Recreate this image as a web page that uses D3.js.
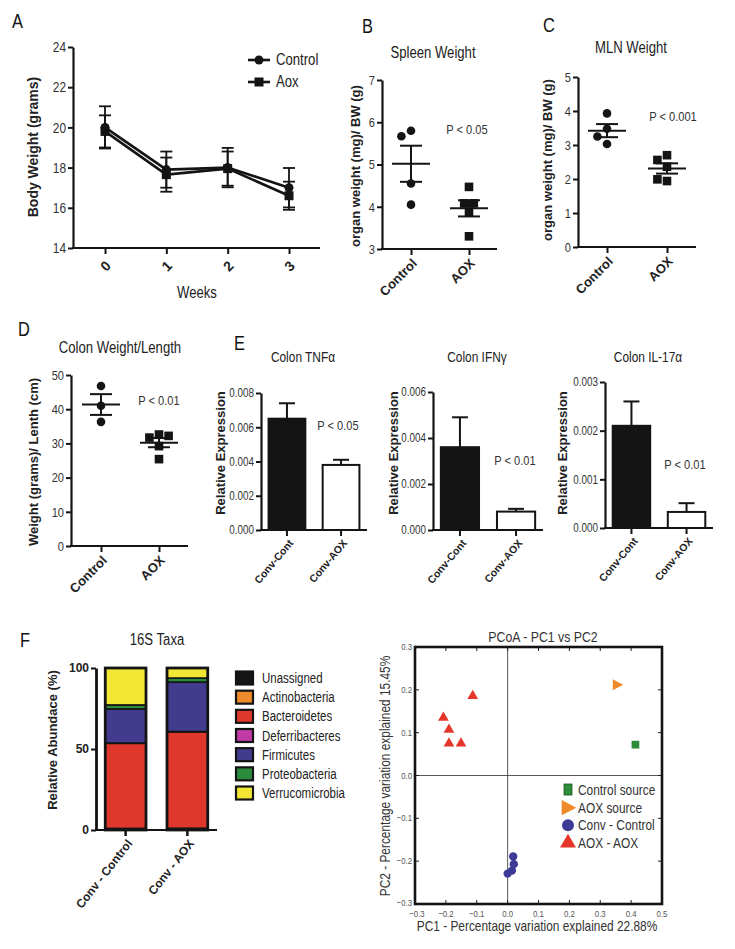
<!DOCTYPE html>
<html><head><meta charset="utf-8">
<script src="https://cdn.jsdelivr.net/npm/d3@7"></script>
<style>body{margin:0;background:#fff;}svg{display:block;}</style>
</head><body><svg id="fig" width="735" height="949"></svg>
<script>
// ---------------- DATA ----------------
// Panel A: body weight over weeks (mean, SEM)
const weeks = [0, 1, 2, 3];
const bwControlMean = [20.0, 17.9, 18.0, 17.0];
const bwControlSem  = [1.05, 0.9, 0.98, 0.98];
const bwAoxMean     = [19.8, 17.65, 17.95, 16.6];
const bwAoxSem      = [0.8, 0.85, 0.85, 0.7];
const bwTicks = [14, 16, 18, 20, 22, 24];

// Panel B: spleen weight (mg)/BW (g)
const scatterGroups = ["Control", "AOX"];
const spleenControl = [4.55, 4.05, 5.8, 5.67];
const spleenAox     = [4.47, 3.88, 3.3, 4.08, 4.08];
const spleenTicks = [3, 4, 5, 6, 7];

// Panel C: MLN weight
const mlnControl = [3.93, 3.48, 3.03, 3.25];
const mlnAox     = [2.7, 2.56, 2.36, 1.94, 1.99];
const mlnTicks = [0, 1, 2, 3, 4, 5];

// Panel D: colon weight/length
const colonControl = [46.8, 41.0, 36.3];
const colonAox     = [32.6, 31.7, 32.2, 29.2, 25.4];
const colonTicks = [0, 10, 20, 30, 40, 50];

// Panel E: relative expression (mean, SEM)
const exprGroups = ["Conv-Cont", "Conv-AOX"];
const tnfMean = [0.0065, 0.0038];
const tnfSem  = [0.0009, 0.0003];
const ifnMean = [0.0036, 0.0008];
const ifnSem  = [0.0013, 0.00012];
const il17Mean = [0.0021, 0.00033];
const il17Sem  = [0.0005, 0.00018];

// Panel F left: 16S taxa (% relative abundance)
const taxa = ["Unassigned", "Actinobacteria", "Bacteroidetes", "Deferribacteres", "Firmicutes", "Proteobacteria", "Verrucomicrobia"];
const taxaColors = ["#151515", "#ef8a2a", "#e0372c", "#c23aa6", "#433b8e", "#2c8a3c", "#f2e634"];
const taxaSamples = ["Conv - Control", "Conv - AOX"];
const taxaConvControl = [1.0, 0.0, 52.5, 0.2, 21.0, 2.5, 22.8];
const taxaConvAox     = [1.0, 0.1, 59.5, 0.2, 30.5, 2.5, 6.2];

// Panel F right: PCoA
const pcoaGroups = ["Control source", "AOX source", "Conv - Control", "AOX - AOX"];
const controlSourcePC1 = [0.414];
const controlSourcePC2 = [0.072];
const aoxSourcePC1 = [0.355];
const aoxSourcePC2 = [0.212];
const convControlPC1 = [0.018, 0.02, 0.014, 0.0];
const convControlPC2 = [-0.189, -0.207, -0.222, -0.229];
const aoxAoxPC1 = [-0.113, -0.208, -0.19, -0.19, -0.151];
const aoxAoxPC2 = [0.186, 0.135, 0.107, 0.075, 0.075];
const pcoaTicks = [-0.3, -0.2, -0.1, 0.0, 0.1, 0.2, 0.3, 0.4, 0.5];

// ---------------- DRAWING ----------------
const svg = d3.select("#fig");
const FN = '"Liberation Sans Narrow","Liberation Sans",Arial,sans-serif';
const FB = '"Liberation Sans",Arial,sans-serif';
const INK = "#141414";

function txt(x, y, s, o = {}) {
  const t = svg.append("text").attr("x", x).attr("y", y).text(s)
    .attr("font-size", o.size || 13)
    .attr("font-family", o.bold ? FB : FN)
    .attr("font-weight", o.bold ? "bold" : "normal")
    .attr("text-anchor", o.anchor || "middle")
    .attr("fill", o.fill || "#222");
  if (o.rot) t.attr("transform", `rotate(${o.rot},${x},${y})`);
  return t;
}

function yAxis(y, x0, ticks, fmt, size) {
  const g = svg.append("g").attr("transform", `translate(${x0},0)`)
    .call(d3.axisLeft(y).tickValues(ticks).tickFormat(fmt).tickSize(5).tickSizeOuter(0).tickPadding(2));
  g.select(".domain").attr("stroke", INK).attr("stroke-width", 2.2);
  g.selectAll(".tick line").attr("stroke", INK).attr("stroke-width", 2);
  g.selectAll(".tick text").attr("font-size", size).attr("font-family", FN).attr("fill", "#333");
  return g;
}

function xAxisCat(x, yPos, x0, x1, labelSize, rot, dx, dy, bold = true) {
  svg.append("line").attr("x1", x0 - 1).attr("x2", x1).attr("y1", yPos).attr("y2", yPos)
    .attr("stroke", INK).attr("stroke-width", 2.2);
  const g = svg.append("g").attr("transform", `translate(0,${yPos})`)
    .call(d3.axisBottom(x).tickSize(6).tickSizeOuter(0));
  g.select(".domain").remove();
  g.selectAll(".tick line").attr("stroke", INK).attr("stroke-width", 2);
  g.selectAll(".tick text")
    .attr("font-size", labelSize).attr("font-family", bold ? FB : FN)
    .attr("font-weight", bold ? "bold" : "normal").attr("fill", "#222")
    .attr("x", 0).attr("y", 0).attr("dy", "0.35em")
    .attr("text-anchor", "end")
    .attr("transform", `translate(${dx},${dy}) rotate(${rot})`);
  return g;
}

function swarm(vals, y, r, step) {
  const placed = [];
  const seq = [0];
  for (let i = 1; i < 8; i++) seq.push(-i, i);
  return vals.map(v => {
    const py = y(v);
    for (const s of seq) {
      const px = s * step;
      if (placed.every(p => Math.hypot(p.x - px, p.y - py) >= 2 * r)) {
        placed.push({ x: px, y: py });
        return { x: px, y: py, v };
      }
    }
  });
}

function scatterPanel(cfg) {
  const y = d3.scaleLinear(cfg.domain, cfg.range);
  const x = d3.scalePoint(scatterGroups, cfg.catRange);
  yAxis(y, cfg.x0, cfg.ticks, d3.format("d"), 13.5);
  xAxisCat(x, cfg.range[0], cfg.x0, cfg.xEnd, 13, -45, 3, 12);
  [cfg.a, cfg.b].forEach((vals, gi) => {
    const cx = x(scatterGroups[gi]);
    const pts = swarm(vals, y, 4.6, 4.8);
    const g = svg.append("g");
    if (gi === 0) {
      g.selectAll("circle").data(pts).join("circle")
        .attr("cx", d => cx + d.x).attr("cy", d => d.y).attr("r", 4.3).attr("fill", INK);
    } else {
      g.selectAll("rect").data(pts).join("rect")
        .attr("x", d => cx + d.x - 4.3).attr("y", d => d.y - 4.3)
        .attr("width", 8.6).attr("height", 8.6).attr("fill", INK);
    }
    const m = d3.mean(vals);
    const sem = d3.deviation(vals) / Math.sqrt(vals.length);
    const L = svg.append("g").attr("stroke", INK).attr("stroke-width", 2);
    L.append("line").attr("x1", cx - 19).attr("x2", cx + 19).attr("y1", y(m)).attr("y2", y(m));
    L.append("line").attr("x1", cx).attr("x2", cx).attr("y1", y(m + sem)).attr("y2", y(m - sem));
    [m + sem, m - sem].forEach(v => L.append("line").attr("x1", cx - 11).attr("x2", cx + 11).attr("y1", y(v)).attr("y2", y(v)));
  });
}

// ---------- Panel A ----------
txt(12, 28, "A", { size: 20, anchor: "start", fill: "#111" });
{
  const x = d3.scaleLinear([0, 3], [105, 289]);
  const y = d3.scaleLinear([14, 24], [248, 47]);
  yAxis(y, 73, bwTicks, d3.format("d"), 14.5);
  svg.append("line").attr("x1", 72).attr("x2", 320).attr("y1", 248).attr("y2", 248).attr("stroke", INK).attr("stroke-width", 2.2);
  const gx = svg.append("g").attr("transform", "translate(0,248)")
    .call(d3.axisBottom(x).tickValues(weeks).tickFormat(d3.format("d")).tickSize(6).tickSizeOuter(0));
  gx.select(".domain").remove();
  gx.selectAll(".tick line").attr("stroke", INK).attr("stroke-width", 2);
  gx.selectAll(".tick text").attr("font-size", 14).attr("font-family", FB).attr("font-weight", "bold").attr("fill", "#222")
    .attr("x", 0).attr("y", 0).attr("dy", "0.35em").attr("text-anchor", "middle")
    .attr("transform", "translate(0,18) rotate(-45)");
  txt(197, 298, "Weeks", { size: 16 });
  txt(38, 147, "Body Weight (grams)", { size: 14, bold: true, rot: -90 });
  const series = [
    { m: bwControlMean, s: bwControlSem, shape: "circle" },
    { m: bwAoxMean, s: bwAoxSem, shape: "square" }
  ];
  series.forEach(se => {
    const g = svg.append("g");
    weeks.forEach((w, i) => {
      const e = g.append("g").attr("stroke", INK).attr("stroke-width", 1.8);
      e.append("line").attr("x1", x(w)).attr("x2", x(w)).attr("y1", y(se.m[i] + se.s[i])).attr("y2", y(se.m[i] - se.s[i]));
      [se.m[i] + se.s[i], se.m[i] - se.s[i]].forEach(v =>
        e.append("line").attr("x1", x(w) - 6).attr("x2", x(w) + 6).attr("y1", y(v)).attr("y2", y(v)));
    });
    g.append("path").datum(se.m).attr("fill", "none").attr("stroke", INK).attr("stroke-width", 2.6)
      .attr("d", d3.line().x((d, i) => x(weeks[i])).y(d => y(d)));
    if (se.shape === "circle") {
      g.selectAll("circle").data(se.m).join("circle").attr("cx", (d, i) => x(weeks[i])).attr("cy", d => y(d)).attr("r", 4.5).attr("fill", INK);
    } else {
      g.selectAll("rect").data(se.m).join("rect").attr("x", (d, i) => x(weeks[i]) - 4.5).attr("y", d => y(d) - 4.5).attr("width", 9).attr("height", 9).attr("fill", INK);
    }
  });
  // legend
  [["Control", "circle", 60], ["Aox", "square", 82]].forEach(([lab, shp, ly]) => {
    svg.append("line").attr("x1", 248).attr("x2", 270).attr("y1", ly).attr("y2", ly).attr("stroke", INK).attr("stroke-width", 2.6);
    if (shp === "circle") svg.append("circle").attr("cx", 259).attr("cy", ly).attr("r", 4.5).attr("fill", INK);
    else svg.append("rect").attr("x", 254.5).attr("y", ly - 4.5).attr("width", 9).attr("height", 9).attr("fill", INK);
    txt(276, ly + 5, lab, { size: 16, anchor: "start" });
  });
}

// ---------- Panel B ----------
txt(362, 33, "B", { size: 20, anchor: "start", fill: "#111" });
txt(433, 58, "Spleen Weight", { size: 16 });
txt(467, 134, "P < 0.05", { size: 13.5, fill: "#333" });
txt(360, 166, "organ weight (mg)/ BW (g)", { size: 13, bold: true, rot: -90 });
scatterPanel({ domain: [3, 7], range: [249, 80], x0: 382, xEnd: 497, catRange: [411, 469], ticks: spleenTicks, a: spleenControl, b: spleenAox });

// ---------- Panel C ----------
txt(543, 32, "C", { size: 20, anchor: "start", fill: "#111" });
txt(631, 53, "MLN Weight", { size: 16 });
txt(673, 121, "P < 0.001", { size: 13.5, fill: "#333" });
txt(552, 160, "organ weight (mg)/ BW (g)", { size: 13, bold: true, rot: -90 });
scatterPanel({ domain: [0, 5], range: [247, 77], x0: 578, xEnd: 696, catRange: [607, 667], ticks: mlnTicks, a: mlnControl, b: mlnAox });

// ---------- Panel D ----------
txt(18, 336, "D", { size: 20, anchor: "start", fill: "#111" });
txt(120, 353, "Colon Weight/Length", { size: 16 });
txt(159, 405, "P < 0.01", { size: 13.5, fill: "#333" });
txt(38, 462, "Weight (grams)/ Lenth (cm)", { size: 13, bold: true, rot: -90 });
scatterPanel({ domain: [0, 50], range: [546, 375], x0: 71, xEnd: 188, catRange: [101, 159], ticks: colonTicks, a: colonControl, b: colonAox });

// ---------- Panel E ----------
txt(234, 350, "E", { size: 20, anchor: "start", fill: "#111" });
function barPanel(cfg) {
  const y = d3.scaleLinear([0, cfg.max], cfg.range);
  const x = d3.scaleBand(exprGroups, [cfg.x0, cfg.xEnd]).paddingInner(0.32).paddingOuter(0.14);
  yAxis(y, cfg.x0, d3.range(0, cfg.max + cfg.step / 2, cfg.step), d3.format(".3f"), 12);
  const g = svg.append("g");
  g.selectAll("rect").data(cfg.mean).join("rect")
    .attr("x", (d, i) => x(exprGroups[i])).attr("y", d => y(d))
    .attr("width", x.bandwidth()).attr("height", d => cfg.range[0] - y(d))
    .attr("fill", (d, i) => i === 0 ? INK : "#fff").attr("stroke", INK).attr("stroke-width", 2);
  cfg.mean.forEach((m, i) => {
    const cx = x(exprGroups[i]) + x.bandwidth() / 2;
    const e = g.append("g").attr("stroke", INK).attr("stroke-width", 2);
    e.append("line").attr("x1", cx).attr("x2", cx).attr("y1", y(m)).attr("y2", y(m + cfg.sem[i]));
    e.append("line").attr("x1", cx - 8).attr("x2", cx + 8).attr("y1", y(m + cfg.sem[i])).attr("y2", y(m + cfg.sem[i]));
  });
  xAxisCat(x, cfg.range[0], cfg.x0, cfg.xEnd, 10.5, -50, 4, 11);
  txt(cfg.titleX, 362, cfg.title, { size: 14.5 });
  txt(cfg.pX, cfg.pY, cfg.p, { size: 13.5, fill: "#333" });
  txt(cfg.ytX, 453, "Relative Expression", { size: 13, bold: true, rot: -90 });
}
barPanel({ max: 0.008, step: 0.002, range: [530, 393], x0: 261, xEnd: 367, mean: tnfMean, sem: tnfSem, title: "Colon TNFα", titleX: 303, p: "P < 0.05", pX: 338, pY: 430, ytX: 225 });
barPanel({ max: 0.006, step: 0.002, range: [530, 392], x0: 433, xEnd: 543, mean: ifnMean, sem: ifnSem, title: "Colon IFNγ", titleX: 477, p: "P < 0.01", pX: 515, pY: 465, ytX: 398 });
barPanel({ max: 0.003, step: 0.001, range: [528, 382], x0: 605, xEnd: 713, mean: il17Mean, sem: il17Sem, title: "Colon IL-17α", titleX: 648, p: "P < 0.01", pX: 685, pY: 469, ytX: 567 });

// ---------- Panel F left: stacked bars ----------
txt(20, 647, "F", { size: 20, anchor: "start", fill: "#111" });
txt(157, 645, "16S Taxa", { size: 16 });
{
  const y = d3.scaleLinear([0, 100], [830, 668]);
  const x = d3.scaleBand(taxaSamples, [96, 217]).paddingInner(0.34).paddingOuter(0.15);
  const rows = [taxaConvControl, taxaConvAox].map((arr, i) => {
    const o = { sample: taxaSamples[i] };
    taxa.forEach((t, k) => o[t] = arr[k]);
    return o;
  });
  const stack = d3.stack().keys(taxa)(rows);
  const g = svg.append("g");
  stack.forEach((layer, k) => {
    g.append("g").selectAll("rect").data(layer).join("rect")
      .attr("x", d => x(d.data.sample)).attr("width", x.bandwidth())
      .attr("y", d => y(d[1])).attr("height", d => Math.max(0, y(d[0]) - y(d[1])))
      .attr("fill", taxaColors[k]).attr("stroke", INK).attr("stroke-width", d => (d[1] - d[0]) > 0 ? 1.6 : 0);
  });
  g.selectAll("rect.outline").data(rows).join("rect").attr("class", "outline")
    .attr("x", d => x(d.sample)).attr("width", x.bandwidth())
    .attr("y", y(100)).attr("height", y(0) - y(100))
    .attr("fill", "none").attr("stroke", INK).attr("stroke-width", 2.8);
  const gy = yAxis(y, 96, [0, 50, 100], d3.format("d"), 12);
  gy.selectAll(".tick text").attr("font-family", FB).attr("font-weight", "bold").attr("fill", "#222");
  gy.select(".domain").attr("stroke-width", 2.8);
  const gx = xAxisCat(x, 830, 96, 217, 12, -52, 4, 11);
  gx.selectAll(".tick line").attr("stroke-width", 2.5);
  txt(57, 740, "Relative Abundace (%)", { size: 13, bold: true, rot: -90 });
  // legend
  const lg = svg.append("g");
  taxa.forEach((t, k) => {
    const cy = d3.scaleLinear([0, taxa.length - 1], [678, 793])(k);
    lg.append("rect").attr("x", 236).attr("y", cy - 6.5).attr("width", 17).attr("height", 13)
      .attr("fill", taxaColors[k]).attr("stroke", INK).attr("stroke-width", 2.2);
    txt(262, cy + 5, t, { size: 14, anchor: "start", fill: "#222" });
  });
}

// ---------- Panel F right: PCoA ----------
{
  const x = d3.scaleLinear([-0.3, 0.5], [415, 662]);
  const y = d3.scaleLinear([-0.3, 0.3], [904, 647]);
  const fmt = v => d3.format(".1f")(v);
  const g = svg.append("g");
  g.append("line").attr("x1", x(0)).attr("x2", x(0)).attr("y1", y(0.3)).attr("y2", y(-0.3)).attr("stroke", "#444").attr("stroke-width", 0.9);
  g.append("line").attr("x1", x(-0.3)).attr("x2", x(0.5)).attr("y1", y(0)).attr("y2", y(0)).attr("stroke", "#444").attr("stroke-width", 0.9);
  const xt = pcoaTicks;
  const yt = pcoaTicks.filter(v => v <= 0.3 + 1e-9);
  xt.forEach(v => {
    g.append("line").attr("x1", x(v)).attr("x2", x(v)).attr("y1", y(-0.3)).attr("y2", y(-0.3) - 4).attr("stroke", "#222");
    g.append("line").attr("x1", x(v)).attr("x2", x(v)).attr("y1", y(0.3)).attr("y2", y(0.3) + 4).attr("stroke", "#222");
    txt(x(v) + (v === -0.3 ? 2 : 0), y(-0.3) + 12.5, fmt(v), { size: 9.5, fill: "#555" });
  });
  yt.forEach(v => {
    g.append("line").attr("x1", x(-0.3)).attr("x2", x(-0.3) + 4).attr("y1", y(v)).attr("y2", y(v)).attr("stroke", "#222");
    g.append("line").attr("x1", x(0.5)).attr("x2", x(0.5) - 4).attr("y1", y(v)).attr("y2", y(v)).attr("stroke", "#222");
    txt(x(-0.3) - 3, y(v) + (v === -0.3 ? 1.5 : 3), fmt(v), { size: 9.5, fill: "#555", anchor: "end" });
  });
  g.append("rect").attr("x", x(-0.3)).attr("y", y(0.3)).attr("width", x(0.5) - x(-0.3)).attr("height", y(-0.3) - y(0.3))
    .attr("fill", "none").attr("stroke", INK).attr("stroke-width", 2.6);

  const pcoaColors = ["#2e8b3b", "#ef8a2b", "#3e3b96", "#e6352a"];
  const sym = [d3.symbolSquare, null, d3.symbolCircle, d3.symbolTriangle];
  const sets = [
    [controlSourcePC1, controlSourcePC2],
    [aoxSourcePC1, aoxSourcePC2],
    [convControlPC1, convControlPC2],
    [aoxAoxPC1, aoxAoxPC2]
  ];
  const triRight = s => `M${-s * 0.45},${-s * 0.55}L${s * 0.6},0L${-s * 0.45},${s * 0.55}Z`;
  sets.forEach(([px, py], k) => {
    px.forEach((v, i) => {
      const tx = x(v), ty = y(py[i]);
      if (k === 1) g.append("path").attr("d", triRight(10)).attr("transform", `translate(${tx},${ty})`).attr("fill", pcoaColors[k]);
      else g.append("path").attr("d", d3.symbol(sym[k], k === 0 ? 60 : (k === 2 ? 55 : 50))()).attr("transform", `translate(${tx},${ty})`).attr("fill", pcoaColors[k]);
    });
  });
  pcoaGroups.forEach((lab, k) => {
    const ly = d3.scaleLinear([0, 3], [790, 843])(k);
    if (k === 0) g.append("rect").attr("x", 564).attr("y", ly - 6).attr("width", 8).attr("height", 11).attr("fill", pcoaColors[0]).attr("stroke", "#1b5e24").attr("stroke-width", 0.8);
    else if (k === 1) g.append("path").attr("d", triRight(14)).attr("transform", `translate(568,${ly})`).attr("fill", pcoaColors[1]);
    else if (k === 2) g.append("circle").attr("cx", 568).attr("cy", ly).attr("r", 6).attr("fill", pcoaColors[2]);
    else g.append("path").attr("d", d3.symbol(d3.symbolTriangle, 110)()).attr("transform", `translate(568,${ly})`).attr("fill", pcoaColors[3]);
    txt(578, ly + 5, lab, { size: 14.5, anchor: "start", fill: "#333" });
  });
  txt(543, 642, "PCoA - PC1 vs PC2", { size: 15, fill: "#333" });
  txt(537, 931, "PC1 - Percentage variation explained 22.88%", { size: 14.5, fill: "#333" });
  txt(390, 776, "PC2 - Percentage variation explained 15.45%", { size: 14.5, fill: "#333", rot: -90 });
}

// emulate the narrow sans used in the original for non-bold text
svg.selectAll("text").each(function () {
  const t = d3.select(this);
  if (t.attr("font-weight") === "bold") return;
  const len = this.getComputedTextLength();
  if (len > 0) t.attr("textLength", len * 0.82).attr("lengthAdjust", "spacingAndGlyphs");
});
</script></body></html>
